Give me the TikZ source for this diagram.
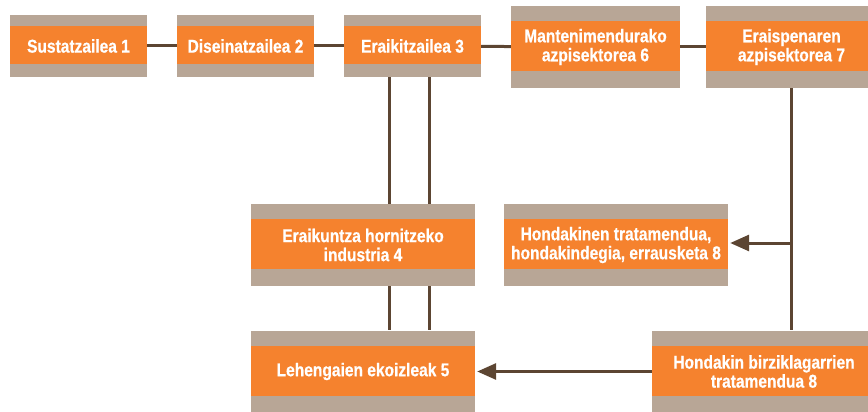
\documentclass[tikz,border=0pt]{standalone}
\usepackage{fontspec}
\newfontfamily\stagefont[FakeStretch=0.84, BoldFeatures={FakeBold=0.6}]{Liberation Sans}
\usetikzlibrary{arrows.meta}

\definecolor{stageorange}{HTML}{F5822E}
\definecolor{stagetan}{HTML}{B8A696}
\definecolor{linkbrown}{HTML}{5C4532}

\tikzset{
  bandtop/.store in=\bandtop, bandtop=11pt,
  bandbot/.store in=\bandbot, bandbot=13pt,
  stage/.style={fill=stagetan, text=white, align=center, inner sep=0pt,
    font=\stagefont\bfseries\fontsize{18.5}{19}\selectfont,
    path picture={\fill[stageorange]
      ([yshift=-\bandtop]path picture bounding box.north west) rectangle
      ([yshift=\bandbot]path picture bounding box.south east);}},
  small/.style={stage, minimum width=137pt, minimum height=62pt, bandtop=11pt, bandbot=13pt},
  big/.style={stage, minimum height=82pt, bandtop=15pt, bandbot=17pt},
  link/.style={draw=linkbrown, line width=3pt},
  flow/.style={link, -{Triangle[length=19pt,width=16pt]}, shorten >=2pt}
}

\begin{document}
\begin{tikzpicture}[x=1pt,y=-1pt]
\clip (0,0) rectangle (868,412);

% top row
\node[small] (s1) at (78.5,46) {Sustatzailea 1};
\node[small] (s2) at (245.5,46) {Diseinatzailea 2};
\node[small] (s3) at (412.5,46) {Eraikitzailea 3};
\node[big, minimum width=169pt] (s6) at (595.5,47) {Mantenimendurako\\azpisektorea 6};
\node[big, minimum width=171pt] (s7) at (791.5,47) {Eraispenaren\\azpisektorea 7};

% middle and bottom
\node[big, minimum width=224pt] (s4) at (363,245) {Eraikuntza hornitzeko\\industria 4};
\node[big, minimum width=224pt] (s8a) at (616,245) {Hondakinen tratamendua,\\hondakindegia, errausketa 8};
\node[big, minimum width=224pt] (s5) at (363,371.5) {Lehengaien ekoizleak 5};
\node[big, minimum width=224pt] (s8b) at (764,371.5) {Hondakin birziklagarrien\\tratamendua 8};

% chain
\draw[link] (s1) -- (s2);
\draw[link] (s2) -- (s3);
\draw[link] (s3) -- (s6);
\draw[link] (s6) -- (s7);

% double lines down
\draw[link] ([xshift=-23.5pt]s3.south) -- ([xshift=-23.5pt]s3.south |- s4.north);
\draw[link] ([xshift=16.5pt]s3.south) -- ([xshift=16.5pt]s3.south |- s4.north);
\draw[link] ([xshift=-23.5pt]s3.south |- s4.south) -- ([xshift=-23.5pt]s3.south |- s5.north);
\draw[link] ([xshift=16.5pt]s3.south |- s4.south) -- ([xshift=16.5pt]s3.south |- s5.north);

% waste
\draw[link] (s7.south) -- (s7.south |- s8b.north);
\draw[flow] ([yshift=2pt]s7.south |- s8a.east) -- ([yshift=2pt]s8a.east);
\draw[flow] (s8b.west) -- (s5.east);
\end{tikzpicture}
\end{document}
